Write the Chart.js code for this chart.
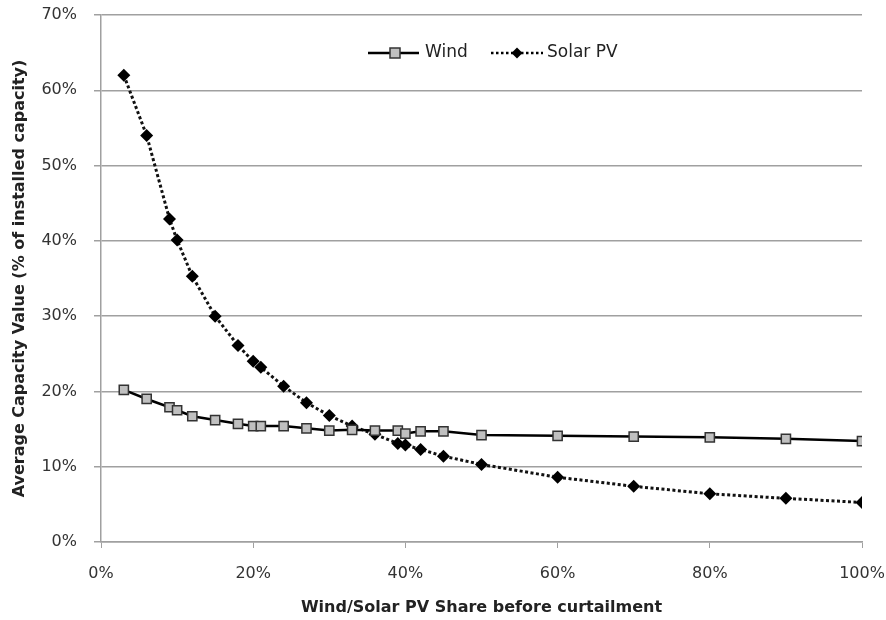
<!DOCTYPE html>
<html>
<head>
<meta charset="utf-8">
<script src="https://cdn.jsdelivr.net/npm/chart.js@4"></script>
<style>
  html, body { margin: 0; padding: 0; background: #fff; }
  #wrap { width: 886px; height: 620px; }
</style>
</head>
<body>
<div id="wrap"><canvas id="myChart" width="886" height="620"></canvas></div>
<script>
const windShare = [3, 6, 9, 10, 12, 15, 18, 20, 21, 24, 27, 30, 33, 36, 39, 40, 42, 45, 50, 60, 70, 80, 90, 100];
const windValue = [20.2, 19.0, 17.9, 17.5, 16.7, 16.2, 15.7, 15.4, 15.4, 15.4, 15.1, 14.8, 14.9, 14.8, 14.8, 14.4, 14.7, 14.7, 14.2, 14.1, 14.0, 13.9, 13.7, 13.4];
const solarShare = [3, 6, 9, 10, 12, 15, 18, 20, 21, 24, 27, 30, 33, 36, 39, 40, 42, 45, 50, 60, 70, 80, 90, 100];
const solarValue = [62.0, 54.0, 42.9, 40.1, 35.3, 30.0, 26.1, 24.0, 23.2, 20.7, 18.5, 16.8, 15.4, 14.3, 13.1, 12.9, 12.3, 11.4, 10.3, 8.6, 7.4, 6.4, 5.8, 5.25];
const xTicks = [0, 20, 40, 60, 80, 100];
const yTicks = [0, 10, 20, 30, 40, 50, 60, 70];

const toPoints = (xs, ys) => xs.map((x, i) => ({ x: x, y: ys[i] }));
const FONT = '"DejaVu Sans", sans-serif';

// legend drawn inside the plot area, like the original
const innerLegend = {
    id: 'innerLegend',
    afterDraw(chart) {
        const ctx = chart.ctx;
        const y = 53;
        ctx.save();
        ctx.font = '17px ' + FONT;
        ctx.textBaseline = 'middle';
        // Wind
        ctx.strokeStyle = '#000';
        ctx.lineWidth = 2.5;
        ctx.setLineDash([]);
        ctx.beginPath(); ctx.moveTo(368, y); ctx.lineTo(419, y); ctx.stroke();
        ctx.fillStyle = '#c0c0c0';
        ctx.lineWidth = 1.5;
        ctx.fillRect(390, y - 5, 10, 10);
        ctx.strokeStyle = '#333';
        ctx.strokeRect(390, y - 5, 10, 10);
        ctx.fillStyle = '#222';
        ctx.fillText('Wind', 425, y);
        // Solar PV
        ctx.strokeStyle = '#000';
        ctx.lineWidth = 2.5;
        ctx.setLineDash([2.5, 2.5]);
        ctx.beginPath(); ctx.moveTo(491, y); ctx.lineTo(543, y); ctx.stroke();
        ctx.setLineDash([]);
        ctx.fillStyle = '#000';
        ctx.beginPath();
        ctx.moveTo(517, y - 5.5); ctx.lineTo(522.5, y); ctx.lineTo(517, y + 5.5); ctx.lineTo(511.5, y);
        ctx.closePath(); ctx.fill();
        ctx.fillStyle = '#222';
        ctx.fillText('Solar PV', 547, y);
        ctx.restore();
    }
};

const ctx = document.getElementById('myChart');
const myChart = new Chart(ctx, {
    type: 'line',
    data: {
        datasets: [
            {
                label: 'Wind',
                data: toPoints(windShare, windValue),
                borderColor: '#000',
                borderWidth: 2.5,
                backgroundColor: '#c0c0c0',
                pointStyle: 'rect',
                pointRadius: 6.5,
                pointBorderColor: '#333',
                pointBorderWidth: 1.5,
                pointBackgroundColor: '#c0c0c0',
                tension: 0
            },
            {
                label: 'Solar PV',
                data: toPoints(solarShare, solarValue),
                borderColor: '#111',
                borderWidth: 3,
                borderDash: [3, 2.5],
                pointStyle: 'rectRot',
                pointRadius: 6.5,
                pointBorderWidth: 0,
                pointBackgroundColor: '#000',
                tension: 0
            }
        ]
    },
    options: {
        responsive: false,
        animation: false,
        layout: { padding: { top: 15, right: 24, left: 0, bottom: 0 } },
        plugins: {
            legend: { display: false },
            tooltip: { enabled: false }
        },
        scales: {
            x: {
                type: 'linear',
                min: 0,
                max: 100,
                afterBuildTicks: (axis) => { axis.ticks = xTicks.map(v => ({ value: v })); },
                afterFit: (axis) => {
                    axis.height = 78;
                    axis.paddingLeft = 0;
                    axis.paddingRight = 0;
                },
                ticks: {
                    callback: (v) => v + '%',
                    color: '#333',
                    font: { family: FONT, size: 16 },
                    padding: 16
                },
                grid: {
                    drawOnChartArea: false,
                    color: '#a0a0a0',
                    tickLength: 6
                },
                border: { color: '#a0a0a0', width: 1.5 },
                title: {
                    display: true,
                    text: 'Wind/Solar PV Share before curtailment',
                    color: '#222',
                    font: { family: FONT, size: 16, weight: 'bold' },
                    padding: { top: 10, bottom: 3 }
                }
            },
            y: {
                min: 0,
                max: 70,
                afterBuildTicks: (axis) => { axis.ticks = yTicks.map(v => ({ value: v })); },
                afterFit: (axis) => {
                    axis.width = 101;
                    axis.paddingTop = 0;
                    axis.paddingBottom = 0;
                },
                ticks: {
                    callback: (v) => v + '%',
                    color: '#333',
                    font: { family: FONT, size: 16 },
                    padding: 17
                },
                grid: {
                    color: '#a0a0a0',
                    lineWidth: 1.5,
                    tickLength: 7
                },
                border: { color: '#a0a0a0', width: 1.5 },
                title: {
                    display: true,
                    text: 'Average Capacity Value (% of installed capacity)',
                    color: '#222',
                    font: { family: FONT, size: 16, weight: 'bold' },
                    padding: { top: 10, bottom: 4 }
                }
            }
        }
    },
    plugins: [innerLegend]
});
</script>
</body>
</html>
